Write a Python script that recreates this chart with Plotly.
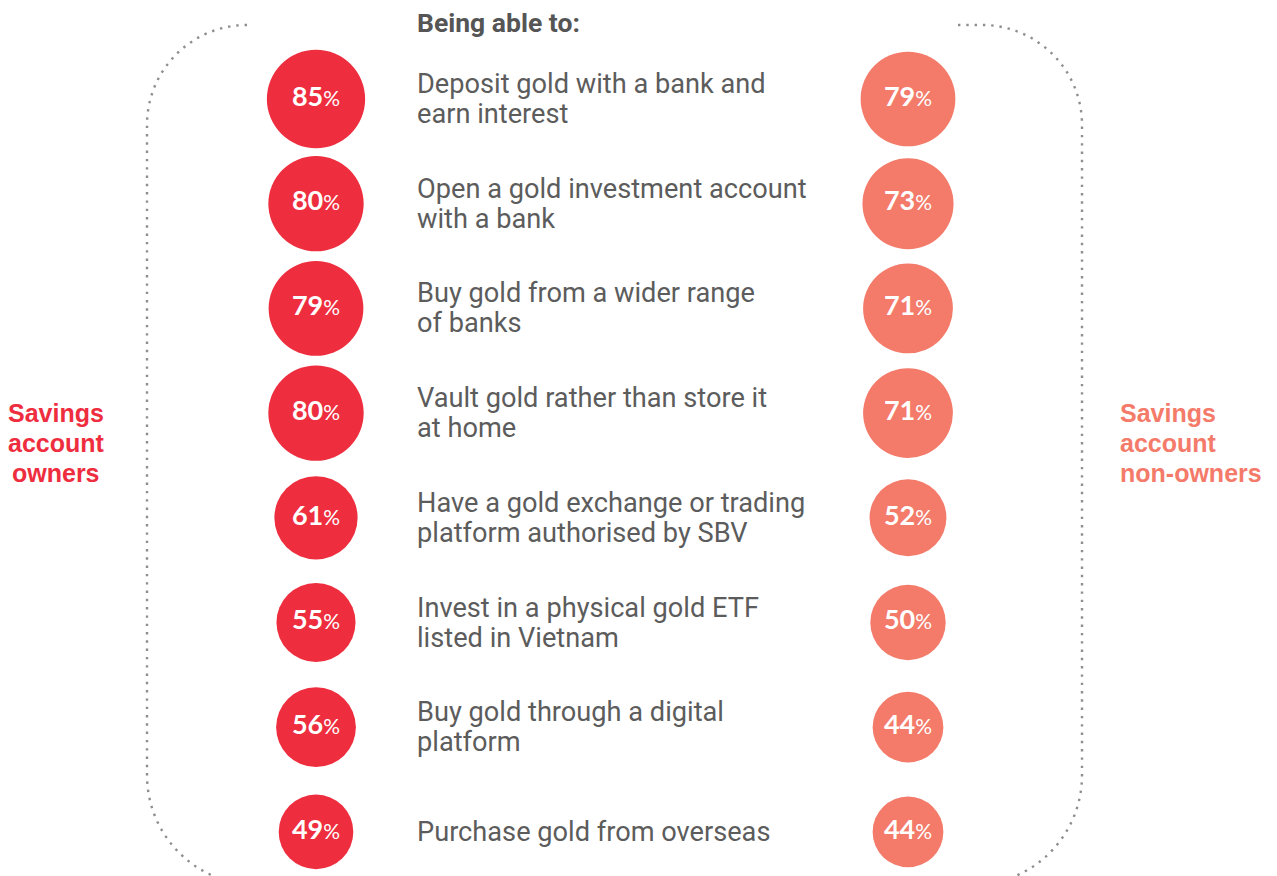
import plotly.graph_objects as go

# Survey items ("Being able to: ...")
items = [
    "Deposit gold with a bank and<br>earn interest",
    "Open a gold investment account<br>with a bank",
    "Buy gold from a wider range<br>of banks",
    "Vault gold rather than store it<br>at home",
    "Have a gold exchange or trading<br>platform authorised by SBV",
    "Invest in a physical gold ETF<br>listed in Vietnam",
    "Buy gold through a digital<br>platform",
    "Purchase gold from overseas",
]
# Share of respondents (%)
owners = [85, 80, 79, 80, 61, 55, 56, 49]
non_owners = [79, 73, 71, 71, 52, 50, 44, 44]

RED = "#EE2D3E"
SALMON = "#F47A6A"
TEXT = "#5C5C5C"
DOT = "#8E8E8E"

W, H = 1277, 876
ROW_PX = 104.7      # vertical spacing of rows in pixels
FIRST_ROW_PX = 99.0
COL_OWNERS = 316
COL_NON = 908
LABEL_X = 415
LINE_PX = 30        # line spacing of multi-line labels

rows = list(range(len(items)))


def bubble_size(v):
    # bubble area proportional to the percentage
    return 10.66 * v ** 0.5


def pct_text(v):
    return f"<b>{v}</b><span style='font-size:21px'>%</span>"


def line_offsets(n):
    return [(j - (n - 1) / 2) * LINE_PX for j in range(n)]


fig = go.Figure()

for vals, col, color in ((owners, COL_OWNERS, RED), (non_owners, COL_NON, SALMON)):
    fig.add_trace(go.Scatter(
        x=[col] * len(vals),
        y=rows,
        mode="markers+text",
        marker=dict(size=[bubble_size(v) for v in vals], color=color,
                    line=dict(width=0), opacity=1),
        text=[pct_text(v) for v in vals],
        textposition="middle center",
        textfont=dict(family="Lato", size=27, color="white"),
        hoverinfo="skip",
        showlegend=False,
        cliponaxis=False,
    ))

annotations = []
# Item labels, one annotation per line for tighter leading
for i, label in enumerate(items):
    lines = label.split("<br>")
    for line, off in zip(lines, line_offsets(len(lines))):
        annotations.append(dict(
            x=LABEL_X, y=i + off / ROW_PX, xref="x", yref="y", text=line,
            showarrow=False, xanchor="left", yanchor="middle", align="left",
            font=dict(family="Roboto", size=27.2, color=TEXT),
        ))

annotations.append(dict(
    x=LABEL_X, y=22, xref="x", yref="y2", text="<b>Being able to:</b>",
    showarrow=False, xanchor="left", yanchor="middle", align="left",
    font=dict(family="Roboto", size=26.5, color="#555555"),
))


def side_label(lines, x, anchor, color):
    for line, off in zip(lines, line_offsets(len(lines))):
        annotations.append(dict(
            x=x, y=443 + off, xref="x", yref="y2", text=f"<b>{line}</b>",
            showarrow=False, xanchor=anchor, yanchor="middle", align=anchor,
            font=dict(family="Liberation Sans", size=25, color=color),
        ))


side_label(["Savings", "account", "owners"], 56, "center", RED)
side_label(["Savings", "account", "non-owners"], 1118, "left", SALMON)

# Dotted rounded brackets around the items
k = 0.5523
left_path = (
    f"M 247,25 C {247 - 100 * k},25 147,{125 - 100 * k} 147,125 "
    f"L 147,775 C 147,{775 + 110 * k} {257 - 110 * k},885 257,885"
)
right_path = (
    f"M 958,25 L 982,25 C {982 + 100 * k},25 1082,{125 - 100 * k} 1082,125 "
    f"L 1082,775 C 1082,{775 + 110 * k} {972 + 110 * k},885 972,885"
)
shapes = [
    dict(type="path", path=p, xref="x", yref="y2",
         line=dict(color=DOT, width=2.4, dash="2.4px,5.9px"), layer="below")
    for p in (left_path, right_path)
]

top = -FIRST_ROW_PX / ROW_PX
bottom = top + H / ROW_PX

fig.update_layout(
    width=W, height=H,
    margin=dict(l=0, r=0, t=0, b=0),
    paper_bgcolor="white", plot_bgcolor="white",
    xaxis=dict(range=[0, W], visible=False, fixedrange=True),
    yaxis=dict(range=[bottom, top], visible=False, fixedrange=True),
    yaxis2=dict(range=[H, 0], visible=False, overlaying="y", fixedrange=True),
    annotations=annotations,
    shapes=shapes,
)

fig.write_html("out.html")
